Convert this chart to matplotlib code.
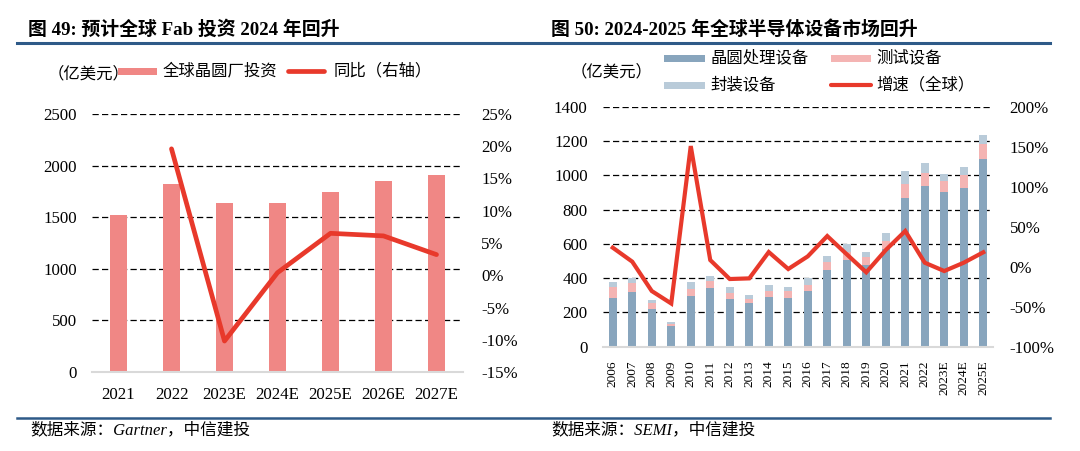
import matplotlib
matplotlib.use('Agg')
import matplotlib.pyplot as plt
from matplotlib.patches import Rectangle
from matplotlib.lines import Line2D
import numpy as np

plt.rcParams['font.family'] = ['Liberation Serif', 'Noto Sans CJK SC']

W, H = 1080, 451

# ---------------- data ----------------
fab_years = ['2021', '2022', '2023E', '2024E', '2025E', '2026E', '2027E']
fab_invest = [1520, 1820, 1635, 1640, 1745, 1850, 1905]
fab_yoy = [np.nan, 19.6, -10.2, 0.4, 6.5, 6.1, 3.2]
fab_left_ticks = [0, 500, 1000, 1500, 2000, 2500]
fab_right_ticks = [-15, -10, -5, 0, 5, 10, 15, 20, 25]

equip_years = ['2006', '2007', '2008', '2009', '2010', '2011', '2012', '2013', '2014',
               '2015', '2016', '2017', '2018', '2019', '2020', '2021', '2022',
               '2023E', '2024E', '2025E']
wafer = [286, 319, 218, 119, 296, 344, 280, 255, 292, 286, 327, 447, 504, 476, 568,
         869, 937, 900, 927, 1093]
test = [62, 50, 35, 15, 40, 37, 33, 25, 35, 37, 35, 45, 50, 45, 50, 82, 74, 64, 72, 87]
package = [27, 33, 19, 12, 39, 33, 35, 21, 33, 25, 37, 39, 43, 29, 43, 74, 60, 41, 49, 57]
growth = [23.8, 6.3, -30.4, -46.0, 150.8, 8.3, -15.4, -14.6, 18.3, -2.9, 12.9, 38.3,
          15.5, -7.0, 20.8, 44.6, 5.0, -5.4, 5.0, 18.0]
equip_left_ticks = [0, 200, 400, 600, 800, 1000, 1200, 1400]
equip_right_ticks = [-100, -50, 0, 50, 100, 150, 200]

# ---------------- style ----------------
C_FAB = '#F08785'
C_RED = '#E8392B'
C_WAFER = '#88A5BD'
C_TEST = '#F4B4B3'
C_PACK = '#B9CBD9'
C_NAVY = '#2E5A88'
C_AXIS = '#D9D9D9'
TICK_FS = 12.2

fig = plt.figure(figsize=(W / 100, H / 100), dpi=100)


def fx(x):
    return x / W


def fy(y):
    return 1 - y / H


def style_ax(ax):
    for s in ['top', 'left', 'right']:
        ax.spines[s].set_visible(False)
    ax.spines['bottom'].set_color(C_AXIS)
    ax.spines['bottom'].set_linewidth(1.5)


# ---------------- left chart ----------------
ax1 = fig.add_axes([fx(92), fy(372), fx(371), 258 / H])
x1 = np.arange(len(fab_years))
ax1.bar(x1, fab_invest, width=0.31, color=C_FAB, zorder=2)
ax1.set_xlim(-0.5, len(fab_years) - 0.5)
ax1.set_ylim(0, 2500)
ax1.set_yticks(fab_left_ticks)
for v in fab_left_ticks[1:]:
    ax1.axhline(v, color='black', lw=0.9, ls=(0, (5, 2.6)), zorder=1)
ax1.set_xticks(x1)
ax1.set_xticklabels(fab_years)
ax1.tick_params(axis='both', length=0, labelsize=TICK_FS)
ax1.tick_params(axis='y', pad=11)
ax1.tick_params(axis='x', pad=10.5)
style_ax(ax1)

ax1r = ax1.twinx()
ax1r.plot(x1, fab_yoy, color=C_RED, lw=3.4, solid_capstyle='round', zorder=3)
ax1r.set_ylim(-15, 25)
ax1r.set_yticks(fab_right_ticks)
ax1r.set_yticklabels([f'{v}%' for v in fab_right_ticks])
ax1r.tick_params(axis='y', length=0, labelsize=TICK_FS, pad=13)
for s in ['top', 'left', 'right', 'bottom']:
    ax1r.spines[s].set_visible(False)

# ---------------- right chart ----------------
ax2 = fig.add_axes([fx(603), fy(346.7), fx(390), 240 / H])
x2 = np.arange(len(equip_years))
bw = 0.39
ax2.bar(x2, wafer, width=bw, color=C_WAFER, zorder=2)
ax2.bar(x2, test, width=bw, bottom=wafer, color=C_TEST, zorder=2)
bot2 = np.array(wafer) + np.array(test)
ax2.bar(x2, package, width=bw, bottom=bot2, color=C_PACK, zorder=2)
ax2.set_xlim(-0.5, len(equip_years) - 0.5)
ax2.set_ylim(0, 1400)
ax2.set_yticks(equip_left_ticks)
for v in equip_left_ticks[1:]:
    ax2.axhline(v, color='black', lw=0.9, ls=(0, (5, 2.6)), zorder=1)
ax2.set_xticks(x2)
ax2.set_xticklabels(equip_years, rotation=90, fontsize=9.6)
ax2.tick_params(axis='both', length=0)
ax2.tick_params(axis='y', labelsize=TICK_FS, pad=11)
ax2.tick_params(axis='x', pad=10)
style_ax(ax2)

ax2r = ax2.twinx()
ax2r.plot(x2, growth, color=C_RED, lw=3.0, solid_joinstyle='miter', zorder=3)
ax2r.set_ylim(-100, 200)
ax2r.set_yticks(equip_right_ticks)
ax2r.set_yticklabels([f'{v}%' for v in equip_right_ticks])
ax2r.tick_params(axis='y', length=0, labelsize=TICK_FS, pad=12)
for s in ['top', 'left', 'right', 'bottom']:
    ax2r.spines[s].set_visible(False)

# ---------------- titles & rules ----------------
TITLE_FS = 13.6
fig.text(fx(28), fy(30), '图 49: 预计全球 Fab 投资 2024 年回升', fontsize=TITLE_FS,
         fontweight='bold', va='center', ha='left')
fig.text(fx(551), fy(30), '图 50: 2024-2025 年全球半导体设备市场回升', fontsize=TITLE_FS,
         fontweight='bold', va='center', ha='left')
fig.add_artist(Line2D([fx(17), fx(1050)], [fy(42.5), fy(42.5)], color=C_NAVY, lw=2.2))
fig.add_artist(Line2D([fx(17), fx(1050)], [fy(418), fy(418)], color=C_NAVY, lw=1.8))

src_kw = dict(fontsize=12, style='italic', va='center', ha='left')
fig.text(fx(30), fy(430), '数据来源：Gartner，中信建投', **src_kw)
fig.text(fx(551), fy(430), '数据来源：SEMI，中信建投', **src_kw)

# ---------------- legends ----------------
LEG_FS = 11.8
fig.text(fx(48), fy(74), '（亿美元）', fontsize=LEG_FS, va='center', ha='left')
fig.add_artist(Rectangle((fx(118), fy(74.5)), fx(39), 7 / H, color=C_FAB, lw=0))
fig.text(fx(163), fy(71), '全球晶圆厂投资', fontsize=LEG_FS, va='center', ha='left')
fig.add_artist(Line2D([fx(288), fx(324)], [fy(71), fy(71)], color=C_RED, lw=3.4,
                      solid_capstyle='round'))
fig.text(fx(334), fy(71), '同比（右轴）', fontsize=LEG_FS, va='center', ha='left')

fig.text(fx(571), fy(72), '（亿美元）', fontsize=LEG_FS, va='center', ha='left')
fig.add_artist(Rectangle((fx(664), fy(62)), fx(41), 7 / H, color=C_WAFER, lw=0))
fig.text(fx(710), fy(58), '晶圆处理设备', fontsize=LEG_FS, va='center', ha='left')
fig.add_artist(Rectangle((fx(831), fy(62)), fx(40), 7 / H, color=C_TEST, lw=0))
fig.text(fx(876), fy(58), '测试设备', fontsize=LEG_FS, va='center', ha='left')
fig.add_artist(Rectangle((fx(664), fy(89)), fx(41), 7 / H, color=C_PACK, lw=0))
fig.text(fx(710), fy(85), '封装设备', fontsize=LEG_FS, va='center', ha='left')
fig.add_artist(Line2D([fx(831), fx(871)], [fy(85), fy(85)], color=C_RED, lw=3.0,
                      solid_capstyle='round'))
fig.text(fx(876), fy(85), '增速（全球）', fontsize=LEG_FS, va='center', ha='left')

fig.savefig('out.png', dpi=100)
